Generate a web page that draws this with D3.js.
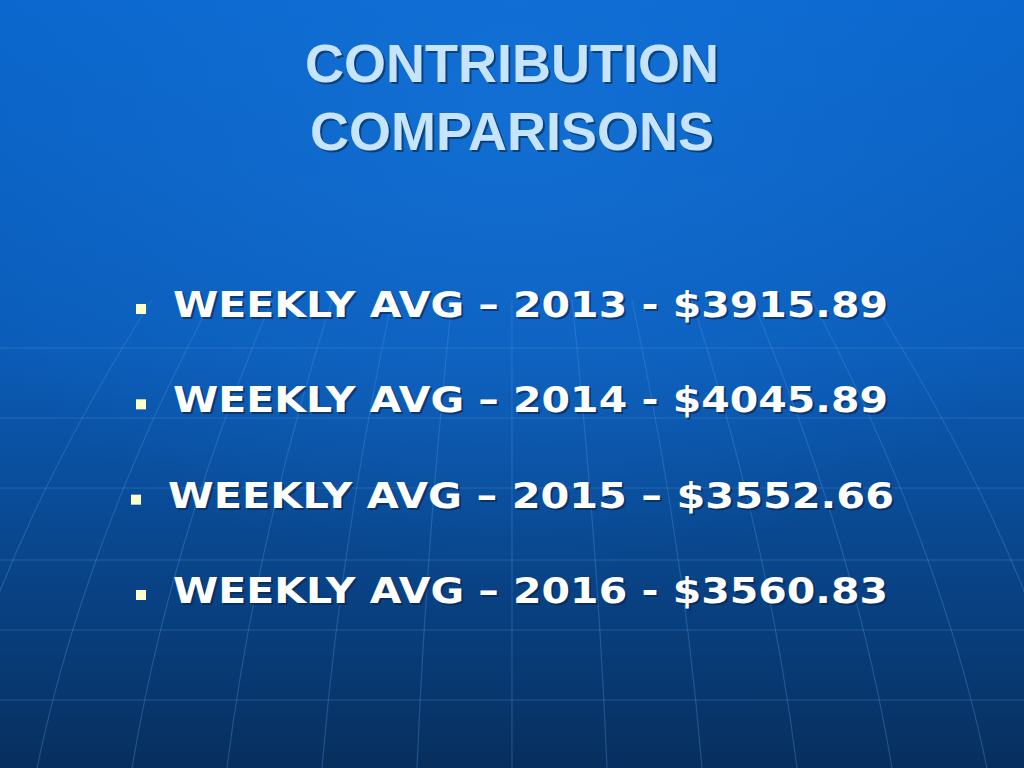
<!DOCTYPE html>
<html><head><meta charset="utf-8">
<script src="https://cdn.jsdelivr.net/npm/d3@7"></script>
<style>body{margin:0;overflow:hidden;background:#0a4a9a}</style>
</head><body>
<script>
const titleLines = ["CONTRIBUTION", "COMPARISONS"];
const years = ["2013", "2014", "2015", "2016"];
const separators = ["-", "-", "–", "-"];
const values = ["$3915.89", "$4045.89", "$3552.66", "$3560.83"];

const W = 1024, H = 768;
const svg = d3.select("body").append("svg").attr("width", W).attr("height", H);
const defs = svg.append("defs");
const g = defs.append("linearGradient").attr("id","bg").attr("x1",0).attr("y1",0).attr("x2",0).attr("y2",1);
g.append("stop").attr("offset","0%").attr("stop-color","#0a66cc");
g.append("stop").attr("offset","45%").attr("stop-color","#0b5cb8");
g.append("stop").attr("offset","100%").attr("stop-color","#072f5e");
const rg = defs.append("radialGradient").attr("id","glow").attr("cx","0.5").attr("cy","0.15").attr("r","0.6");
rg.append("stop").attr("offset","0%").attr("stop-color","#1a7ae0").attr("stop-opacity",0.5);
rg.append("stop").attr("offset","100%").attr("stop-color","#1a7ae0").attr("stop-opacity",0);
svg.append("rect").attr("width",W).attr("height",H).attr("fill","url(#bg)");
svg.append("rect").attr("width",W).attr("height",H).attr("fill","url(#glow)");

// globe grid
const grid = svg.append("g").attr("stroke","#4f8fd6").attr("stroke-opacity",0.35).attr("fill","none").attr("stroke-width",1.2);
[348,418,488,560,630,700].forEach(y=>grid.append("line").attr("x1",0).attr("x2",W).attr("y1",y).attr("y2",y));
for(let i=-6;i<=6;i++){
  const xb = 512 + i*95, xt = 512 + i*60;
  grid.append("path").attr("d",`M${xt},300 Q${(xt+xb)/2 + i*8},540 ${xb},${H}`);
}

// title
const title = svg.append("g").attr("font-family","Liberation Sans, Arial, sans-serif").attr("font-weight","bold").attr("font-size",54).attr("text-anchor","middle");
titleLines.forEach((t,i)=>{
  const y = 82 + i*68;
  title.append("text").attr("x",514).attr("y",y+2).attr("fill","#0a2e5a").attr("opacity",0.7).text(t);
  title.append("text").attr("x",512).attr("y",y).attr("fill","#c6e4fb").text(t);
});

// bullets
const yScale = d3.scalePoint().domain(years).range([317,603]);
const items = svg.append("g");
years.forEach((yr,i)=>{
  const y = yScale(yr);
  const x0 = i===2 ? 168 : 173;
  const txt = `WEEKLY AVG – ${yr} ${separators[i]} ${values[i]}`;
  items.append("rect").attr("x",x0-37).attr("y",y-13).attr("width",10).attr("height",10).attr("fill","#ffffcc");
  items.append("text").attr("x",x0+2).attr("y",y+2).attr("fill","#06234a").attr("opacity",0.6)
    .attr("font-family","DejaVu Sans, Verdana, sans-serif").attr("font-weight","bold").attr("font-size",36)
    .attr("textLength", i===2?726:715).attr("lengthAdjust","spacingAndGlyphs").text(txt);
  items.append("text").attr("x",x0).attr("y",y).attr("fill","#ffffff")
    .attr("font-family","DejaVu Sans, Verdana, sans-serif").attr("font-weight","bold").attr("font-size",36)
    .attr("textLength", i===2?726:715).attr("lengthAdjust","spacingAndGlyphs").text(txt);
});
</script>
</body></html>
